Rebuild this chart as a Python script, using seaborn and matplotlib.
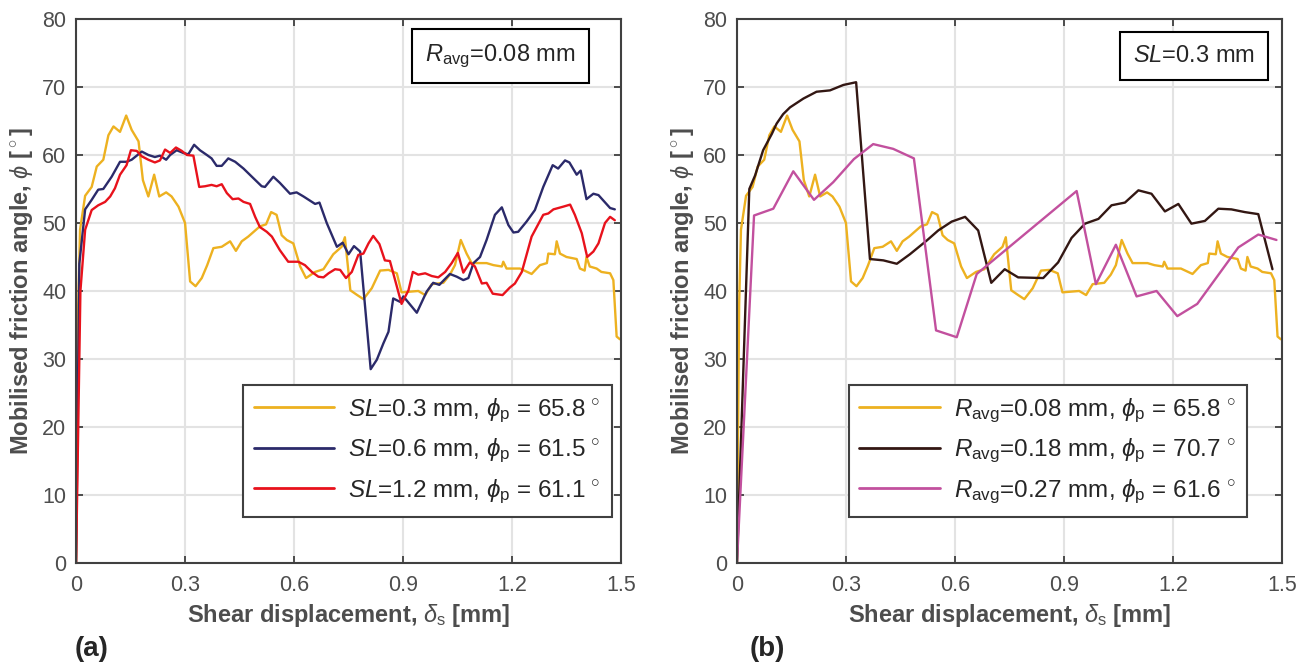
import matplotlib
matplotlib.use("Agg")
import matplotlib.pyplot as plt
import pandas as pd
import seaborn as sns

# ---------------- data: shear displacement [mm] vs mobilised friction angle [deg]
sl03_x = [0, 0.006, 0.011, 0.025, 0.043, 0.057, 0.075, 0.089, 0.103, 0.121, 0.138, 0.153,
          0.172, 0.184, 0.199, 0.215, 0.229, 0.248, 0.263, 0.282, 0.300, 0.314, 0.329, 0.346,
          0.361, 0.378, 0.401, 0.424, 0.440, 0.456, 0.474, 0.506, 0.523, 0.537, 0.552, 0.566,
          0.580, 0.598, 0.617, 0.633, 0.658, 0.681, 0.708, 0.731, 0.740, 0.755, 0.774, 0.791,
          0.814, 0.837, 0.860, 0.883, 0.896, 0.919, 0.942, 0.961, 0.979, 1.011, 1.029, 1.043,
          1.059, 1.075, 1.089, 1.130, 1.149, 1.172, 1.176, 1.185, 1.222, 1.254, 1.277, 1.296,
          1.300, 1.318, 1.323, 1.332, 1.350, 1.378, 1.387, 1.400, 1.405, 1.414, 1.433, 1.446,
          1.470, 1.479, 1.488, 1.497]
sl03_y = [0, 38.0, 49.0, 54.0, 55.3, 58.3, 59.3, 62.9, 64.2, 63.4, 65.8, 63.7,
          62.0, 56.3, 53.9, 57.1, 53.9, 54.5, 53.9, 52.4, 50.0, 41.4, 40.7, 41.9,
          43.8, 46.3, 46.5, 47.3, 45.9, 47.3, 48.0, 49.5, 49.8, 51.6, 51.2, 48.2,
          47.5, 47.0, 43.6, 41.9, 42.8, 43.2, 45.4, 46.5, 47.9, 40.1, 39.4, 38.8,
          40.4, 43.0, 43.1, 42.6, 39.8, 39.9, 40.0, 39.4, 41.0, 41.2, 42.4, 43.8,
          47.5, 45.5, 44.1, 44.1, 43.8, 43.6, 44.3, 43.3, 43.3, 42.5, 43.8, 44.1,
          45.5, 45.4, 47.3, 45.5, 45.0, 44.7, 43.3, 43.0, 45.0, 43.6, 43.3, 42.8,
          42.6, 41.6, 33.3, 32.9]

sl06_x = [0, 0.009, 0.025, 0.043, 0.061, 0.075, 0.098, 0.121, 0.139, 0.153, 0.167, 0.181,
          0.199, 0.217, 0.231, 0.248, 0.259, 0.277, 0.295, 0.309, 0.325, 0.341, 0.360, 0.373,
          0.387, 0.401, 0.419, 0.438, 0.461, 0.484, 0.511, 0.520, 0.543, 0.561, 0.589, 0.607,
          0.626, 0.658, 0.670, 0.690, 0.718, 0.734, 0.750, 0.765, 0.782, 0.811, 0.828, 0.846,
          0.860, 0.873, 0.892, 0.901, 0.938, 0.965, 0.983, 1.000, 1.029, 1.048, 1.066, 1.080,
          1.094, 1.112, 1.130, 1.153, 1.172, 1.190, 1.204, 1.217, 1.240, 1.263, 1.286, 1.312,
          1.327, 1.346, 1.358, 1.378, 1.389, 1.405, 1.424, 1.438, 1.470, 1.483]
sl06_y = [0, 44.0, 52.0, 53.4, 54.9, 55.0, 56.8, 59.0, 59.0, 59.3, 59.9, 60.5,
          60.0, 59.7, 59.9, 59.3, 60.0, 60.7, 60.3, 60.1, 61.5, 60.7, 60.0, 59.5,
          58.4, 58.4, 59.5, 59.0, 58.0, 56.8, 55.4, 55.3, 56.8, 55.9, 54.3, 54.5,
          53.9, 52.8, 53.0, 50.0, 46.5, 47.1, 45.4, 46.6, 45.8, 28.5, 29.9, 32.3,
          34.0, 38.9, 38.4, 39.2, 36.8, 39.9, 41.2, 40.9, 42.5, 42.1, 41.6, 41.9,
          44.1, 45.0, 47.5, 51.2, 52.3, 49.7, 48.6, 48.7, 50.2, 51.9, 55.3, 58.5,
          58.0, 59.2, 58.9, 57.1, 57.7, 53.5, 54.3, 54.1, 52.2, 52.0]

sl12_x = [0, 0.012, 0.025, 0.043, 0.061, 0.080, 0.094, 0.107, 0.121, 0.139, 0.151, 0.167,
          0.181, 0.199, 0.217, 0.231, 0.245, 0.259, 0.275, 0.291, 0.305, 0.323, 0.339, 0.355,
          0.373, 0.387, 0.401, 0.415, 0.431, 0.447, 0.461, 0.479, 0.493, 0.506, 0.525, 0.539,
          0.561, 0.584, 0.612, 0.630, 0.649, 0.667, 0.681, 0.695, 0.713, 0.727, 0.743, 0.759,
          0.777, 0.791, 0.805, 0.818, 0.835, 0.850, 0.864, 0.896, 0.915, 0.927, 0.942, 0.961,
          0.979, 0.997, 1.016, 1.034, 1.051, 1.066, 1.084, 1.098, 1.117, 1.130, 1.147, 1.174,
          1.194, 1.208, 1.227, 1.254, 1.286, 1.300, 1.314, 1.341, 1.360, 1.373, 1.392, 1.407,
          1.424, 1.438, 1.456, 1.470, 1.483]
sl12_y = [0, 40.0, 49.0, 51.9, 52.6, 53.1, 53.9, 55.1, 57.1, 58.5, 60.7, 60.6,
          59.8, 59.3, 58.9, 59.2, 60.8, 60.3, 61.1, 60.6, 60.0, 59.9, 55.3, 55.4,
          55.6, 55.4, 55.7, 54.4, 53.5, 53.6, 53.1, 52.8, 50.9, 49.4, 48.7, 48.0,
          46.0, 44.3, 44.3, 43.8, 42.8, 42.1, 42.0, 42.6, 43.2, 43.1, 41.9, 42.8,
          45.3, 45.5, 47.0, 48.1, 46.9, 44.5, 44.4, 38.1, 40.1, 42.8, 42.4, 42.6,
          42.2, 42.0, 42.8, 44.1, 45.6, 42.7, 44.2, 43.6, 41.1, 41.2, 39.6, 39.4,
          40.5, 41.1, 42.8, 48.0, 51.2, 51.4, 52.0, 52.4, 52.7, 51.2, 48.5, 45.0,
          45.8, 47.0, 50.0, 50.9, 50.4]

r018_x = [0, 0.034, 0.050, 0.072, 0.096, 0.109, 0.127, 0.146, 0.183, 0.219, 0.256, 0.293,
          0.328, 0.366, 0.403, 0.440, 0.476, 0.522, 0.554, 0.591, 0.628, 0.664, 0.700, 0.737,
          0.774, 0.843, 0.884, 0.921, 0.958, 0.995, 1.031, 1.068, 1.105, 1.141, 1.178, 1.215,
          1.251, 1.288, 1.325, 1.361, 1.398, 1.435, 1.474]
r018_y = [0, 55.0, 57.0, 60.7, 63.1, 64.6, 66.0, 67.0, 68.3, 69.3, 69.5, 70.3,
          70.7, 44.7, 44.5, 44.0, 45.4, 47.4, 48.9, 50.2, 50.9, 48.9, 41.2, 43.2,
          42.0, 41.9, 44.2, 47.8, 49.9, 50.6, 52.6, 53.0, 54.8, 54.3, 51.7, 52.8,
          49.9, 50.3, 52.1, 52.0, 51.6, 51.3, 43.2]

r027_x = [0, 0.047, 0.100, 0.155, 0.212, 0.265, 0.322, 0.375, 0.430, 0.487, 0.548, 0.605,
          0.660, 0.935, 0.988, 1.043, 1.100, 1.155, 1.212, 1.267, 1.380, 1.435, 1.485]
r027_y = [0, 51.1, 52.1, 57.6, 53.4, 56.0, 59.4, 61.6, 60.9, 59.5, 34.2, 33.2,
          42.5, 54.7, 41.0, 46.8, 39.2, 40.0, 36.3, 38.1, 46.4, 48.3, 47.5]

x_ticks = [0, 0.3, 0.6, 0.9, 1.2, 1.5]
x_tick_labels = ["0", "0.3", "0.6", "0.9", "1.2", "1.5"]
y_ticks = [0, 10, 20, 30, 40, 50, 60, 70, 80]

panel_a = [
    (sl03_x, sl03_y, r"$\mathit{SL}$=0.3 mm, $\phi_\mathrm{p}$ = 65.8$\,^\circ$", "#EDB120"),
    (sl06_x, sl06_y, r"$\mathit{SL}$=0.6 mm, $\phi_\mathrm{p}$ = 61.5$\,^\circ$", "#2B2A6A"),
    (sl12_x, sl12_y, r"$\mathit{SL}$=1.2 mm, $\phi_\mathrm{p}$ = 61.1$\,^\circ$", "#E8121C"),
]
panel_b = [
    (sl03_x, sl03_y, r"$\mathit{R}_\mathrm{avg}$=0.08 mm, $\phi_\mathrm{p}$ = 65.8$\,^\circ$", "#EDB120"),
    (r018_x, r018_y, r"$\mathit{R}_\mathrm{avg}$=0.18 mm, $\phi_\mathrm{p}$ = 70.7$\,^\circ$", "#331713"),
    (r027_x, r027_y, r"$\mathit{R}_\mathrm{avg}$=0.27 mm, $\phi_\mathrm{p}$ = 61.6$\,^\circ$", "#C2509E"),
]

# ---------------- style
sns.set_style("ticks")
plt.rcParams["font.family"] = ["Liberation Sans", "DejaVu Sans"]
plt.rcParams["mathtext.fontset"] = "custom"
plt.rcParams["mathtext.rm"] = "Liberation Sans"
plt.rcParams["mathtext.it"] = "Liberation Sans:italic"
plt.rcParams["mathtext.bf"] = "Liberation Sans:bold"

AX_COL = "#404040"
LBL_COL = "#4D4D4D"

fig = plt.figure(figsize=(13.09, 6.66), dpi=100)
ax_a = fig.add_axes([0.0581, 0.1547, 0.4163, 0.8168])
ax_b = fig.add_axes([0.5630, 0.1547, 0.4163, 0.8168])


def draw_panel(ax, series, box_text, box_x, legend_right):
    for xs, ys, label, color in series:
        df = pd.DataFrame({"disp": xs, "phi": ys})
        sns.lineplot(data=df, x="disp", y="phi", ax=ax, color=color, lw=1.7,
                     sort=False, estimator=None, label=label)
    ax.set_xlim(0, 1.5)
    ax.set_ylim(0, 80)
    ax.set_xticks(x_ticks)
    ax.set_xticklabels(x_tick_labels)
    ax.set_yticks(y_ticks)
    ax.grid(True, color="#E3E3E3", lw=1.5)
    ax.set_axisbelow(True)
    ax.tick_params(direction="in", length=5, width=1.3, color=AX_COL,
                   labelcolor=LBL_COL, labelsize=15.5, top=True, right=True)
    ax.tick_params(axis="x", pad=9)
    ax.tick_params(axis="y", pad=7)
    for sp in ax.spines.values():
        sp.set_visible(True)
        sp.set_color(AX_COL)
        sp.set_linewidth(1.5)
    ax.set_xlabel(r"Shear displacement, $\delta_\mathrm{s}$ [mm]", fontsize=17,
                  fontweight="bold", color=LBL_COL, labelpad=4)
    ax.set_ylabel(r"Mobilised friction angle, $\phi$ [$^\circ$]", fontsize=17,
                  fontweight="bold", color=LBL_COL, labelpad=5)
    leg = ax.legend(loc="lower right", bbox_to_anchor=(legend_right, 0.085),
                    borderaxespad=0, fontsize=17.5, frameon=True, fancybox=False,
                    framealpha=1, edgecolor=AX_COL, handlelength=3.3,
                    handletextpad=0.6, labelspacing=0.5, borderpad=0.45)
    leg.get_frame().set_linewidth(1.5)
    for line in leg.get_lines():
        line.set_linewidth(2.0)
    ax.text(box_x, 0.932, box_text, transform=ax.transAxes, fontsize=17,
            ha="center", va="center",
            bbox=dict(boxstyle="square,pad=0.55", fc="white", ec="black", lw=1.5))


draw_panel(ax_a, panel_a, r"$\mathit{R}_\mathrm{avg}$=0.08 mm", 0.779, 0.983)
draw_panel(ax_b, panel_b, r"$\mathit{SL}$=0.3 mm", 0.838, 0.936)

fig.text(0.057, 0.026, "(a)", fontsize=20, fontweight="bold", ha="left", va="center")
fig.text(0.5725, 0.026, "(b)", fontsize=20, fontweight="bold", ha="left", va="center")

fig.savefig("out.png", dpi=100)
